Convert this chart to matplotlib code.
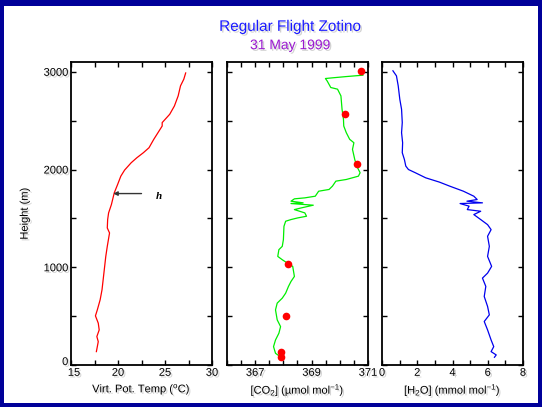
import matplotlib
matplotlib.use("Agg")
import matplotlib.pyplot as plt
import matplotlib.patheffects as pe
from matplotlib.patches import Rectangle
from matplotlib.ticker import FixedLocator, MultipleLocator
from matplotlib.transforms import ScaledTranslation

plt.rcParams["font.family"] = ["Liberation Sans", "DejaVu Sans"]
plt.rcParams["mathtext.fontset"] = "custom"
plt.rcParams["mathtext.rm"] = "Liberation Sans"
plt.rcParams["mathtext.it"] = "Liberation Sans:italic"

# virtual potential temperature profile (degC vs m)
temp = [27.2, 27.0, 26.65, 26.4, 26.0, 25.5, 24.7, 24.7, 23.8, 23.3, 22.7, 22.0,
        21.4, 20.7, 20.3, 19.96, 19.6, 19.3, 19.0, 18.9, 18.86, 19.1, 18.86, 18.7,
        18.5, 18.4, 18.3, 18.1, 17.8, 17.6, 17.9, 18.0, 17.75, 17.9, 17.7]
temp_h = [2988, 2924, 2856, 2753, 2650, 2565, 2480, 2445, 2308, 2223, 2172, 2120,
          2069, 1994, 1932, 1847, 1761, 1642, 1556, 1488, 1402, 1351, 1214, 1111,
          940, 855, 770, 667, 564, 503, 428, 359, 291, 239, 137]

# continuous CO2 profile
co2 = [370.82, 370.23, 369.74, 369.49, 369.55, 369.68, 369.92, 370.04, 370.08, 370.13,
       370.14, 370.23, 370.35, 370.50, 370.45, 370.53, 370.60, 370.72, 370.66, 370.23,
       369.86, 369.74, 369.62, 369.25, 369.13, 368.76, 368.39, 368.27, 368.70, 368.27,
       369.06, 368.63, 368.39, 368.76, 368.82, 368.51, 368.27, 368.08, 368.02, 368.00,
       367.96, 367.84, 367.80, 367.96, 368.14, 368.33, 368.39, 368.27, 368.18, 368.08,
       367.96, 367.78, 367.72, 367.78, 367.90, 367.84, 367.72, 367.65, 367.72, 367.88]
co2_h = [2965, 2951, 2938, 2931, 2907, 2839, 2822, 2753, 2616, 2514,
         2445, 2377, 2309, 2274, 2206, 2103, 2035, 1967, 1932, 1898,
         1881, 1830, 1796, 1778, 1727, 1710, 1700, 1676, 1659, 1652,
         1635, 1607, 1590, 1556, 1522, 1505, 1488, 1471, 1419, 1283,
         1214, 1180, 1111, 1077, 1043, 1009, 906, 855, 804, 735,
         684, 633, 564, 462, 393, 325, 256, 188, 120, 86]

# flask samples
flask = [370.74, 370.19, 370.60, 368.17, 368.10, 367.90, 367.92]
flask_h = [3003, 2572, 2052, 1036, 503, 137, 86]

# water vapour profile
h2o = [0.62, 0.82, 0.92, 1.01, 1.11, 1.15, 1.11, 1.17, 1.15, 1.27, 1.35, 1.50,
       1.89, 2.48, 3.26, 3.84, 4.62, 5.21, 5.40, 4.82, 5.70, 4.43, 4.94, 4.84,
       5.60, 5.21, 5.60, 5.99, 6.19, 5.99, 6.09, 5.99, 6.22, 5.99, 5.70, 5.89,
       5.80, 5.99, 6.09, 5.80, 5.99, 6.19, 6.34, 6.19, 6.48, 6.38]
h2o_h = [3010, 2958, 2856, 2719, 2616, 2480, 2377, 2274, 2172, 2103, 2035, 2000,
         1967, 1915, 1871, 1830, 1778, 1727, 1693, 1676, 1659, 1652, 1625, 1590,
         1573, 1539, 1488, 1436, 1385, 1317, 1214, 1111, 1009, 940, 889, 804,
         701, 599, 513, 445, 359, 256, 188, 137, 103, 79]

h_top = 1754  # mixed layer height marked by the arrow

W, H = 542, 407
fig = plt.figure(figsize=(W / 100, H / 100), dpi=100, facecolor="#000099")
fig.patches.append(Rectangle((4 / W, 4 / H), 534 / W, 397 / H, transform=fig.transFigure,
                             facecolor="white", edgecolor="none", zorder=-10))

shadow = [pe.withSimplePatchShadow(offset=(1.2, -1.2), shadow_rgbFace="gray", alpha=0.35)]

fig.text(0.535, 0.934, "Regular Flight Zotino", color="#1a1aff", fontsize=11,
         ha="center", va="center", path_effects=shadow)
fig.text(0.535, 0.889, "31 May 1999", color="#9a1ad0", fontsize=10,
         ha="center", va="center", path_effects=shadow)

bottom, height = 1 - 365 / H, 303 / H
lefts = [71 / W, 227 / W, 382 / W]
width = 141 / W
axes = [fig.add_axes([l, bottom, width, height]) for l in lefts]

for ax in axes:
    ax.set_ylim(0, 3100)
    ax.yaxis.set_major_locator(FixedLocator([0, 1000, 2000, 3000]))
    ax.yaxis.set_minor_locator(MultipleLocator(500))
    ax.tick_params(which="both", direction="in", top=True, right=True,
                   length=3.5, width=1.0, labelsize=8, pad=2)
    for s in ax.spines.values():
        s.set_linewidth(1.3)

ax1, ax2, ax3 = axes

ax1.plot(temp, temp_h, color="red", lw=0.9)
ax1.set_xlim(15, 30)
ax1.xaxis.set_major_locator(FixedLocator([15, 20, 25, 30]))
ax1.xaxis.set_minor_locator(MultipleLocator(2.5))
ax1.set_xlabel(r"Virt. Pot. Temp ($^{\rm o}$C)", fontsize=8, labelpad=3, path_effects=shadow)
ax1.set_ylabel("Height (m)", fontsize=8, labelpad=10, path_effects=shadow)
ax1.annotate("", xy=(19.5, h_top), xytext=(22.5, h_top),
             arrowprops=dict(arrowstyle="-|>", color="#333333", lw=1.0,
                             mutation_scale=6, shrinkA=0, shrinkB=0))
ax1.text(24.3, 1720, "h", fontsize=8, fontweight="bold", fontstyle="italic",
         family="Liberation Serif", ha="center", va="center")

ax2.plot(co2, co2_h, color="#00ee00", lw=0.9)
ax2.plot(flask, flask_h, "o", color="red", ms=5.5, mec="none")
ax2.set_xlim(366, 371)
ax2.xaxis.set_major_locator(FixedLocator([367, 369, 371]))
ax2.xaxis.set_minor_locator(MultipleLocator(0.5))
ax2.set_xlabel("[CO$_2$] (\u00b5mol mol$^{-1}$)", fontsize=8, labelpad=3, path_effects=shadow)
ax2.set_yticklabels([])

ax3.plot(h2o, h2o_h, color="#0000ee", lw=0.9)
ax3.set_xlim(0, 8)
ax3.xaxis.set_major_locator(FixedLocator([0, 2, 4, 6, 8]))
ax3.xaxis.set_minor_locator(MultipleLocator(1))
ax3.set_xlabel(r"[H$_2$O] (mmol mol$^{-1}$)", fontsize=8, labelpad=3, path_effects=shadow)
ax3.set_yticklabels([])

fig.canvas.draw()
for ax in axes:
    for lab in ax.get_xticklabels() + ax.get_yticklabels():
        lab.set_path_effects(shadow)
# the "0" height label sits a little above the corner, clear of the "15"
ax1.get_yticklabels()[0].set_transform(
    ax1.get_yticklabels()[0].get_transform() + ScaledTranslation(0, 4 / 100, fig.dpi_scale_trans))
# "15" starts just right of the corner
ax1.get_xticklabels()[0].set_transform(
    ax1.get_xticklabels()[0].get_transform() + ScaledTranslation(3 / 100, 0, fig.dpi_scale_trans))

fig.savefig("out.png", dpi=100, facecolor=fig.get_facecolor())
